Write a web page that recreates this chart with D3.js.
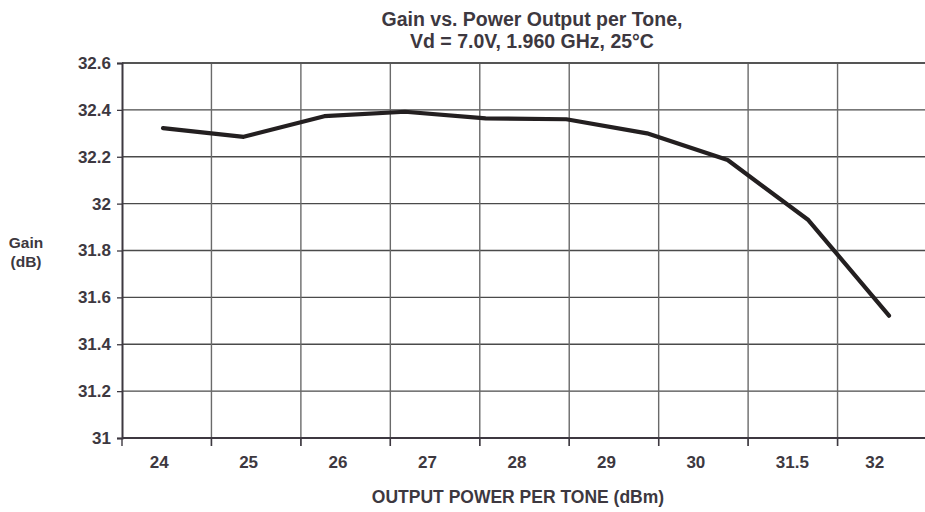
<!DOCTYPE html>
<html>
<head>
<meta charset="utf-8">
<script src="https://cdn.jsdelivr.net/npm/d3@7"></script>
<style>
  html, body { margin: 0; padding: 0; background: #fff; }
  svg { display: block; }
  text { font-family: "Liberation Sans", Arial, Helvetica, sans-serif; font-weight: bold; fill: #3d3840; }
</style>
</head>
<body>
<svg id="chart" width="925" height="512"></svg>
<script>
// ---- data ----
const xLabels = ["24", "25", "26", "27", "28", "29", "30", "31.5", "32"];
const yTicks = [31, 31.2, 31.4, 31.6, 31.8, 32, 32.2, 32.4, 32.6];
const gain = [32.322, 32.285, 32.373, 32.392, 32.364, 32.360, 32.300, 32.186, 31.930, 31.522];
const titleLines = ["Gain vs. Power Output per Tone,", "Vd = 7.0V, 1.960 GHz, 25\u00B0C"];
const yTitleLines = ["Gain", "(dB)"];
const xTitle = "OUTPUT POWER PER TONE (dBm)";

(function () {
// ---- layout ----
const W = 925, H = 512;
const pLeft = 122, pRight = 927, pTop = 63, pBottom = 438;

const svg = d3.select("#chart");

const xBand = d3.scaleBand().domain(xLabels).range([pLeft, pRight]).paddingInner(0).paddingOuter(0);
const y = d3.scaleLinear().domain([31, 32.6]).range([pBottom, pTop]);
const xPt = d3.scaleLinear().domain([0, gain.length - 1]).range([pLeft + 41, pRight - 38]);

// horizontal gridlines
svg.append("g").selectAll("line").data(yTicks).join("line")
  .attr("x1", pLeft).attr("x2", W)
  .attr("y1", d => y(d)).attr("y2", d => y(d))
  .attr("stroke", "#4a4a4a").attr("stroke-width", 1.3);

// vertical gridlines (band boundaries)
const bounds = xLabels.slice(1).map(d => xBand(d));
svg.append("g").selectAll("line").data(bounds).join("line")
  .attr("x1", d => d).attr("x2", d => d)
  .attr("y1", pTop).attr("y2", pBottom + 8)
  .attr("stroke", "#6a6a6a").attr("stroke-width", 1.4);

// top border
svg.append("line").attr("x1", pLeft).attr("x2", W).attr("y1", pTop).attr("y2", pTop)
  .attr("stroke", "#555").attr("stroke-width", 1.8);

// y axis
const yAxis = d3.axisLeft(y).tickValues(yTicks).tickSize(5).tickPadding(6)
  .tickFormat(d => String(+d.toFixed(1)));
const gy = svg.append("g").attr("transform", `translate(${pLeft},0)`).call(yAxis);
gy.select(".domain").attr("stroke", "#3d3840").attr("stroke-width", 2);
gy.selectAll(".tick line").attr("stroke", "#3d3840").attr("stroke-width", 1.3);
gy.selectAll(".tick text").attr("font-size", 17).attr("fill", "#3d3840")
  .style("font-family", "'Liberation Sans', Arial, sans-serif").style("font-weight", "bold");

// x axis: baseline and ticks at band boundaries
svg.append("line").attr("x1", pLeft).attr("x2", W).attr("y1", pBottom).attr("y2", pBottom)
  .attr("stroke", "#3d3840").attr("stroke-width", 2);
svg.append("g").selectAll("line").data([pLeft].concat(bounds)).join("line")
  .attr("x1", d => d).attr("x2", d => d)
  .attr("y1", pBottom).attr("y2", pBottom + 8)
  .attr("stroke", "#3d3840").attr("stroke-width", 1.4);

const xAxis = d3.axisBottom(xBand).tickSize(0).tickPadding(0);
const gx = svg.append("g").attr("transform", `translate(0,${pBottom})`).call(xAxis);
gx.select(".domain").remove();
gx.selectAll(".tick text")
  .attr("y", 30).attr("dy", 0)
  .attr("x", -17).attr("text-anchor", "start")
  .attr("font-size", 17).attr("fill", "#3d3840")
  .style("font-family", "'Liberation Sans', Arial, sans-serif").style("font-weight", "bold");

// line
const line = d3.line().x((d, i) => xPt(i)).y(d => y(d));
svg.append("path").datum(gain)
  .attr("d", line)
  .attr("fill", "none").attr("stroke", "#231f20").attr("stroke-width", 4.2)
  .attr("stroke-linejoin", "round").attr("stroke-linecap", "round");

// titles
svg.append("g").selectAll("text").data(titleLines).join("text")
  .attr("x", 532).attr("y", (d, i) => 26 + i * 22.3)
  .attr("text-anchor", "middle").attr("font-size", 19.5)
  .text(d => d);

svg.append("g").selectAll("text").data(yTitleLines).join("text")
  .attr("x", 26).attr("y", (d, i) => 248 + i * 19)
  .attr("text-anchor", "middle").attr("font-size", 15.5)
  .text(d => d);

svg.append("text").attr("x", 518).attr("y", 503)
  .attr("text-anchor", "middle").attr("font-size", 17.5)
  .text(xTitle);
})();
</script>
</body>
</html>
